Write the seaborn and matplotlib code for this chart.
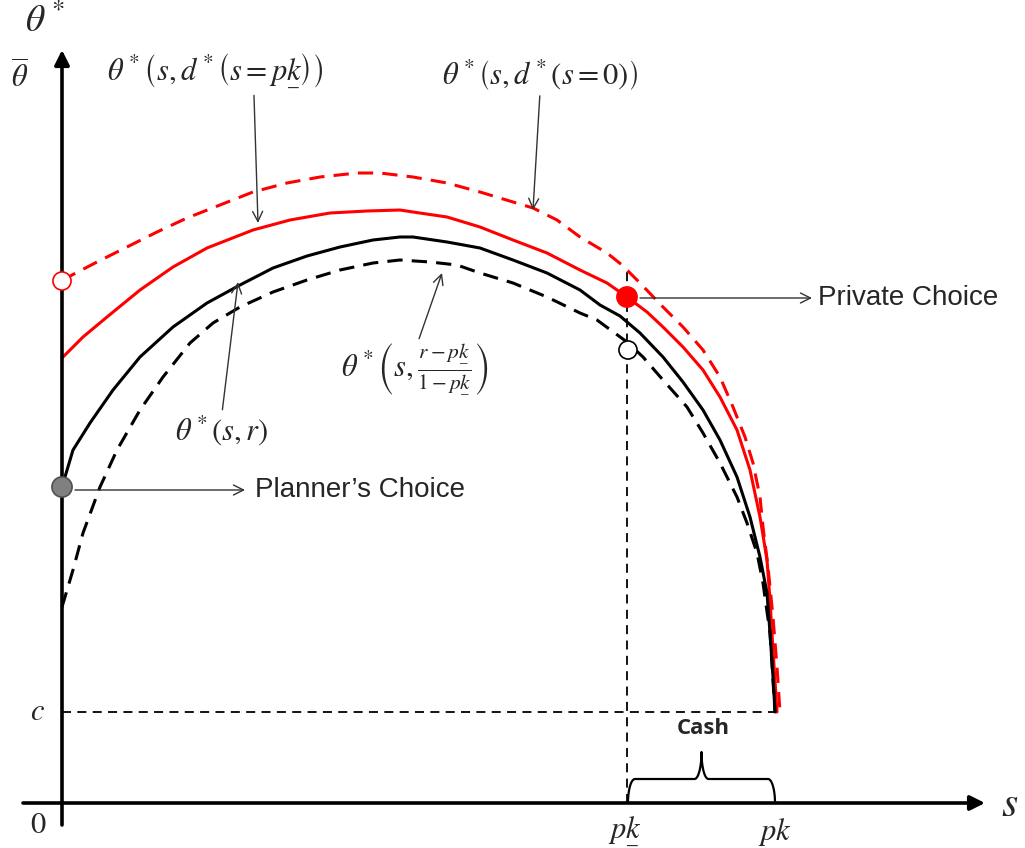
import numpy as np
import pandas as pd
import matplotlib
matplotlib.use('Agg')
import matplotlib.pyplot as plt
import seaborn as sns

# schematic units: s along the horizontal axis, theta up the vertical one
PK_LOW = 565
PK = 713
C_LEVEL = 91
GUIDE_TOP = 532

# theta*(s, d*(s=0))  - red dashed
s_red_dash = [0, 10, 35, 65, 95, 125, 158, 191, 225, 258, 295, 318, 351, 385, 418, 451, 471, 495,
              518, 545, 560, 578, 601, 621, 641, 658, 671, 683, 691, 698, 701, 706, 711, 715, 718]
th_red_dash = [522, 528, 541, 556, 571, 585, 598, 611, 620, 626, 630, 630, 626, 620, 611, 601, 595, 583,
               566, 550, 538, 520, 496, 476, 453, 426, 396, 366, 340, 306, 276, 236, 186, 136, 91]

# theta*(s, d*(s=pk_)) - red solid
s_red = [0, 21, 45, 78, 111, 145, 191, 228, 268, 305, 338, 351, 385, 418, 451, 485, 518, 545,
         565, 585, 601, 621, 641, 658, 675, 688, 698, 705, 708, 711, 715]
th_red = [445, 466, 486, 513, 536, 555, 573, 583, 590, 592, 593, 591, 586, 576, 563, 550, 533, 520,
          506, 491, 476, 456, 433, 406, 373, 333, 286, 243, 203, 153, 91]

# theta*(s, r) - black solid
s_black = [0, 11, 28, 51, 78, 111, 145, 178, 211, 245, 278, 311, 338, 351, 385, 418, 451, 485,
           518, 538, 558, 578, 601, 621, 641, 658, 675, 688, 698, 705, 708, 711, 713]
th_black = [316, 353, 380, 413, 446, 476, 500, 518, 535, 547, 556, 563, 566, 566, 561, 555, 543, 530,
            513, 498, 487, 470, 446, 421, 393, 363, 326, 286, 246, 210, 170, 126, 91]

# theta*(s, (r-pk_)/(1-pk_)) - black dashed
s_black_dash = [0, 11, 21, 38, 55, 78, 101, 128, 151, 178, 211, 245, 278, 311, 338, 368, 395, 418,
                451, 485, 518, 535, 565, 581, 601, 625, 641, 658, 675, 685, 695, 701, 708, 713]
th_black_dash = [196, 233, 270, 316, 353, 393, 426, 460, 480, 496, 511, 523, 533, 540, 543, 541, 538, 530,
                 520, 506, 490, 483, 461, 446, 423, 396, 370, 340, 306, 280, 250, 220, 170, 91]

sns.set_theme(style='white')
plt.rcParams['font.family'] = ['Liberation Sans', 'DejaVu Sans']
plt.rcParams['mathtext.fontset'] = 'stix'

fig = plt.figure(figsize=(10.25, 8.48), dpi=100)
ax = fig.add_axes([0, 0, 1, 1])
ax.set_xlim(-62, 963)
ax.set_ylim(-45, 803)
ax.axis('off')

dash = (0, (5, 3))
curves = [
    (s_red_dash, th_red_dash, 'red', dash),
    (s_red, th_red, 'red', '-'),
    (s_black, th_black, 'black', '-'),
    (s_black_dash, th_black_dash, 'black', dash),
]
for s, th, col, ls in curves:
    df = pd.DataFrame({'s': s, 'theta': th})
    sns.lineplot(data=df, x='s', y='theta', sort=False, estimator=None, color=col,
                 linestyle=ls, lw=2.2, ax=ax, zorder=3)

# guide lines
guide = dict(color='black', lw=1.3, linestyle=(0, (5, 3.5)), zorder=2)
ax.plot([0, s_red_dash[-1]], [C_LEVEL, C_LEVEL], **guide)
ax.plot([PK_LOW, PK_LOW], [0, GUIDE_TOP], **guide)

# axes with arrow heads
axis_arrow = dict(arrowstyle='-|>', lw=2.6, color='black', mutation_scale=22, shrinkA=0, shrinkB=0)
ax.annotate('', xy=(923, 0), xytext=(-39, 0), arrowprops=axis_arrow, zorder=4)
ax.annotate('', xy=(0, 753), xytext=(0, -22), arrowprops=axis_arrow, zorder=4)

# points
pts = pd.DataFrame({
    's': [0, 0, PK_LOW, PK_LOW + 1],
    'theta': [th_red_dash[0], th_black[0], th_red[s_red.index(PK_LOW)], 453],
})
face = ['white', '#808080', 'red', 'white']
edge = ['red', '#505050', 'red', 'black']
sns.scatterplot(data=pts, x='s', y='theta', s=[170, 210, 210, 170], c=face, edgecolor=edge,
                linewidth=1.2, ax=ax, zorder=5, legend=False)

# curly brace for cash
def brace(x0, x1, y, h, tip, r=7):
    t = np.linspace(0, np.pi / 2, 25)
    mid = (x0 + x1) / 2
    lx = np.r_[x0 + r * (1 - np.cos(t)), mid - r + r * np.sin(t)]
    ly = np.r_[y + h * np.sin(t), y + h + tip * (1 - np.cos(t))]
    xs = np.r_[lx, (2 * mid - lx)[::-1]]
    ys = np.r_[ly, ly[::-1]]
    ax.plot(xs, ys, color='black', lw=1.6, zorder=3)

brace(PK_LOW + 1, PK, 0, 24, 27)
ax.text((PK_LOW + PK) / 2 + 2, 75, 'Cash', fontsize=16, fontweight='bold', ha='center', va='center',
        family=['Open Sans', 'DejaVu Sans'])

# labels
ax.text(-17, 781, r'$\theta^*$', fontsize=27, ha='center', va='center')
ax.text(-42, 725, r'$\overline{\theta}$', fontsize=22, ha='center', va='center')
ax.text(-25, C_LEVEL, r'$c$', fontsize=22, ha='center', va='center')
ax.text(-24, -22, r'$0$', fontsize=22, ha='center', va='center')
ax.text(948, -2, r'$s$', fontsize=30, ha='center', va='center')
ax.text(PK_LOW - 2, -29, r'$p\underset{\_}{k}$', fontsize=22, ha='center', va='center')
ax.text(PK, -29, r'$pk$', fontsize=22, ha='center', va='center')

thin = dict(arrowstyle='->', lw=1.0, color='#333333', mutation_scale=18, shrinkA=0, shrinkB=0)
ax.annotate(r'$\theta^*\left(s, d^*\left(s = p\underset{\_}{k}\right)\right)$', xy=(196, 580), xytext=(153, 731),
            fontsize=22, ha='center', va='center', arrowprops=dict(thin, relpos=(0.68, 0.0)))
ax.annotate(r'$\theta^*\left(s, d^*\left(s = 0\right)\right)$', xy=(471, 593), xytext=(478, 728),
            fontsize=22, ha='center', va='center', arrowprops=dict(thin, relpos=(0.5, 0.0)))
ax.annotate(r'$\theta^*\left(s, \frac{r - p\underset{\_}{k}}{1 - p\underset{\_}{k}}\right)$', xy=(380, 530),
            xytext=(353, 433), fontsize=22, ha='center', va='center',
            arrowprops=dict(thin, relpos=(0.52, 1.0)))
ax.annotate(r'$\theta^*(s, r)$', xy=(176, 521), xytext=(160, 373), fontsize=22, ha='center', va='center',
            arrowprops=dict(thin, relpos=(0.5, 1.0)))

ax.annotate('', xy=(183, 313), xytext=(13, 313), arrowprops=thin)
ax.text(193, 313, 'Planner\u2019s Choice', fontsize=20, ha='left', va='center')
ax.annotate('', xy=(750, 505), xytext=(578, 505), arrowprops=thin)
ax.text(756, 505, 'Private Choice', fontsize=20, ha='left', va='center')

fig.savefig('out.png', dpi=100)
